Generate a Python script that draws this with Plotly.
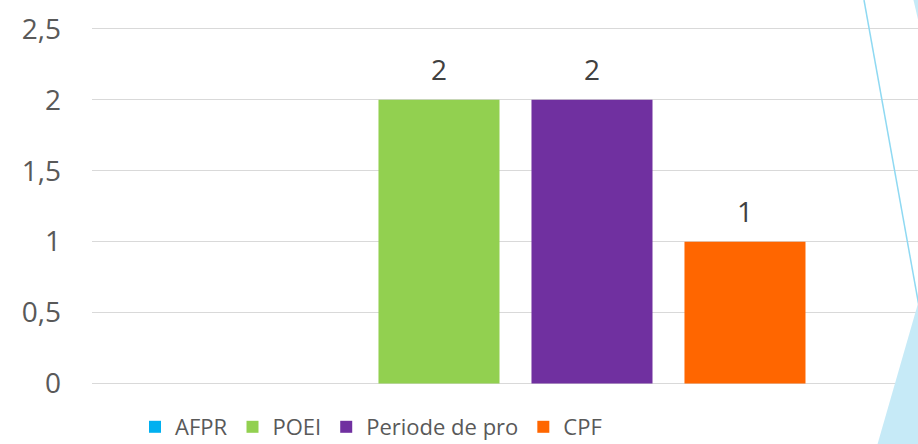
import plotly.graph_objects as go

series = ["AFPR", "POEI", "Periode de pro", "CPF"]
values = [0, 2, 2, 1]
colors = ["#00B0F0", "#92D050", "#7030A0", "#FF6600"]
category = [""]
y_ticks = [0, 0.5, 1, 1.5, 2, 2.5]
y_tick_labels = ["0", "0,5", "1", "1,5", "2", "2,5"]

W, H = 918, 444
L, R, T, B = 92, 0, 26, 59
pw, ph = W - L - R, H - T - B
BARGAP = 0.3
FONT = "Open Sans, DejaVu Sans, sans-serif"

def px(x):
    return (x - L) / pw

def py(y):
    return (H - B - y) / ph

fig = go.Figure()
for name, v, c in zip(series, values, colors):
    fig.add_trace(go.Bar(
        x=category, y=[v], name=name, marker=dict(color=c, line=dict(width=0)),
    ))

# data labels above bars
n = len(series)
for i, v in enumerate(values):
    if v:
        fig.add_annotation(
            x=(i - (n - 1) / 2) * (1 - BARGAP) / n, y=v, xref="x", yref="y",
            text=str(v), showarrow=False, yanchor="bottom", yshift=10,
            font=dict(size=28, color="#404040", family=FONT),
        )

# decorative slide elements
fig.add_shape(type="line", xref="paper", yref="paper",
              x0=px(864), y0=py(0), x1=px(920), y1=py(312),
              line=dict(color="#8FD9F2", width=1.5))
fig.add_shape(type="path", xref="paper", yref="paper",
              path=f"M {px(919)} {py(300)} L {px(877)} {py(446)} L {px(920)} {py(446)} Z",
              fillcolor="#C6EAF7", line=dict(width=0))
fig.add_shape(type="path", xref="paper", yref="paper",
              path=f"M {px(913)} {py(-2)} L {px(920)} {py(-2)} L {px(920)} {py(28)} Z",
              fillcolor="#C6EAF7", line=dict(width=0))

fig.update_layout(
    width=W, height=H,
    margin=dict(l=L, r=R, t=T, b=B),
    paper_bgcolor="white", plot_bgcolor="white",
    font=dict(family=FONT, color="#595959", size=22),
    barmode="group", bargap=BARGAP, bargroupgap=0.209,
    xaxis=dict(range=[-0.4844, 0.4604], showticklabels=False, showgrid=False,
               zeroline=False, showline=False, fixedrange=True),
    yaxis=dict(range=[-0.01, 2.52], tickvals=y_ticks, ticktext=y_tick_labels,
               showgrid=True, gridcolor="#D9D9D9", gridwidth=1.3,
               zeroline=False, showline=False, ticklabelstandoff=30,
               tickfont=dict(size=28, color="#595959")),
    legend=dict(orientation="h", xref="container", yref="container",
                x=371 / W, xanchor="center", y=(H - 427) / H, yanchor="middle",
                font=dict(size=22, color="#595959"), itemwidth=30,
                traceorder="normal", bgcolor="rgba(0,0,0,0)"),
    showlegend=True,
)
fig.write_html("out.html", config={"displayModeBar": False},
               post_script="document.body.style.margin='0';document.body.style.overflow='hidden';")
